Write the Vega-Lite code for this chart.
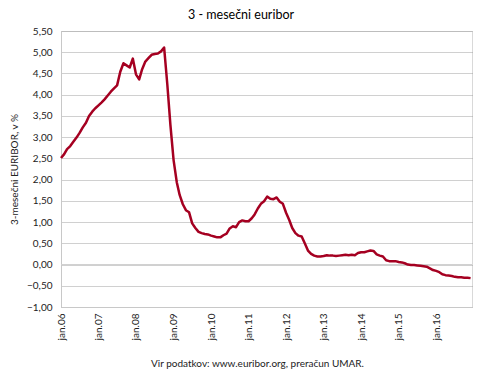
{
  "$schema": "https://vega.github.io/schema/vega-lite/v6.json",
  "width": 411,
  "height": 276,
  "autosize": {"type": "none"},
  "padding": {"left": 61, "top": 31, "right": 18, "bottom": 71},
  "background": "white",
  "title": {
    "text": "3 - mesečni euribor",
    "anchor": "middle",
    "frame": "bounds",
    "font": "Lato",
    "fontSize": 12.5,
    "fontWeight": "normal",
    "color": "#000000",
    "offset": 5
  },
  "config": {
    "view": {"stroke": "#d9d9d9", "strokeWidth": 1},
    "font": "Lato"
  },
  "data": {
    "values": [
      {"date": "2006-01-01", "v": 2.51}, {"date": "2006-02-01", "v": 2.60}, {"date": "2006-03-01", "v": 2.72}, {"date": "2006-04-01", "v": 2.79},
      {"date": "2006-05-01", "v": 2.89}, {"date": "2006-06-01", "v": 2.99}, {"date": "2006-07-01", "v": 3.10}, {"date": "2006-08-01", "v": 3.23},
      {"date": "2006-09-01", "v": 3.34}, {"date": "2006-10-01", "v": 3.50}, {"date": "2006-11-01", "v": 3.60}, {"date": "2006-12-01", "v": 3.68},
      {"date": "2007-01-01", "v": 3.75}, {"date": "2007-02-01", "v": 3.82}, {"date": "2007-03-01", "v": 3.89}, {"date": "2007-04-01", "v": 3.98},
      {"date": "2007-05-01", "v": 4.07}, {"date": "2007-06-01", "v": 4.15}, {"date": "2007-07-01", "v": 4.22}, {"date": "2007-08-01", "v": 4.54},
      {"date": "2007-09-01", "v": 4.74}, {"date": "2007-10-01", "v": 4.69}, {"date": "2007-11-01", "v": 4.64}, {"date": "2007-12-01", "v": 4.85},
      {"date": "2008-01-01", "v": 4.48}, {"date": "2008-02-01", "v": 4.36}, {"date": "2008-03-01", "v": 4.60}, {"date": "2008-04-01", "v": 4.78},
      {"date": "2008-05-01", "v": 4.86}, {"date": "2008-06-01", "v": 4.94}, {"date": "2008-07-01", "v": 4.96}, {"date": "2008-08-01", "v": 4.97},
      {"date": "2008-09-01", "v": 5.02}, {"date": "2008-10-01", "v": 5.11}, {"date": "2008-11-01", "v": 4.24}, {"date": "2008-12-01", "v": 3.29},
      {"date": "2009-01-01", "v": 2.46}, {"date": "2009-02-01", "v": 1.94}, {"date": "2009-03-01", "v": 1.64}, {"date": "2009-04-01", "v": 1.42},
      {"date": "2009-05-01", "v": 1.28}, {"date": "2009-06-01", "v": 1.23}, {"date": "2009-07-01", "v": 0.97}, {"date": "2009-08-01", "v": 0.86},
      {"date": "2009-09-01", "v": 0.77}, {"date": "2009-10-01", "v": 0.74}, {"date": "2009-11-01", "v": 0.72}, {"date": "2009-12-01", "v": 0.71},
      {"date": "2010-01-01", "v": 0.68}, {"date": "2010-02-01", "v": 0.66}, {"date": "2010-03-01", "v": 0.64}, {"date": "2010-04-01", "v": 0.64},
      {"date": "2010-05-01", "v": 0.69}, {"date": "2010-06-01", "v": 0.73}, {"date": "2010-07-01", "v": 0.85}, {"date": "2010-08-01", "v": 0.90},
      {"date": "2010-09-01", "v": 0.88}, {"date": "2010-10-01", "v": 1.00}, {"date": "2010-11-01", "v": 1.04}, {"date": "2010-12-01", "v": 1.02},
      {"date": "2011-01-01", "v": 1.02}, {"date": "2011-02-01", "v": 1.09}, {"date": "2011-03-01", "v": 1.18}, {"date": "2011-04-01", "v": 1.32},
      {"date": "2011-05-01", "v": 1.43}, {"date": "2011-06-01", "v": 1.49}, {"date": "2011-07-01", "v": 1.60}, {"date": "2011-08-01", "v": 1.55},
      {"date": "2011-09-01", "v": 1.54}, {"date": "2011-10-01", "v": 1.58}, {"date": "2011-11-01", "v": 1.48}, {"date": "2011-12-01", "v": 1.43},
      {"date": "2012-01-01", "v": 1.22}, {"date": "2012-02-01", "v": 1.05}, {"date": "2012-03-01", "v": 0.86}, {"date": "2012-04-01", "v": 0.74},
      {"date": "2012-05-01", "v": 0.68}, {"date": "2012-06-01", "v": 0.66}, {"date": "2012-07-01", "v": 0.50}, {"date": "2012-08-01", "v": 0.33},
      {"date": "2012-09-01", "v": 0.25}, {"date": "2012-10-01", "v": 0.21}, {"date": "2012-11-01", "v": 0.19}, {"date": "2012-12-01", "v": 0.19},
      {"date": "2013-01-01", "v": 0.20}, {"date": "2013-02-01", "v": 0.22}, {"date": "2013-03-01", "v": 0.21}, {"date": "2013-04-01", "v": 0.21},
      {"date": "2013-05-01", "v": 0.20}, {"date": "2013-06-01", "v": 0.21}, {"date": "2013-07-01", "v": 0.22}, {"date": "2013-08-01", "v": 0.23},
      {"date": "2013-09-01", "v": 0.22}, {"date": "2013-10-01", "v": 0.23}, {"date": "2013-11-01", "v": 0.22}, {"date": "2013-12-01", "v": 0.27},
      {"date": "2014-01-01", "v": 0.29}, {"date": "2014-02-01", "v": 0.29}, {"date": "2014-03-01", "v": 0.31}, {"date": "2014-04-01", "v": 0.33},
      {"date": "2014-05-01", "v": 0.32}, {"date": "2014-06-01", "v": 0.24}, {"date": "2014-07-01", "v": 0.21}, {"date": "2014-08-01", "v": 0.19},
      {"date": "2014-09-01", "v": 0.10}, {"date": "2014-10-01", "v": 0.08}, {"date": "2014-11-01", "v": 0.08}, {"date": "2014-12-01", "v": 0.08},
      {"date": "2015-01-01", "v": 0.06}, {"date": "2015-02-01", "v": 0.05}, {"date": "2015-03-01", "v": 0.03}, {"date": "2015-04-01", "v": 0.00},
      {"date": "2015-05-01", "v": -0.01}, {"date": "2015-06-01", "v": -0.01}, {"date": "2015-07-01", "v": -0.02}, {"date": "2015-08-01", "v": -0.03},
      {"date": "2015-09-01", "v": -0.04}, {"date": "2015-10-01", "v": -0.05}, {"date": "2015-11-01", "v": -0.09}, {"date": "2015-12-01", "v": -0.13},
      {"date": "2016-01-01", "v": -0.15}, {"date": "2016-02-01", "v": -0.18}, {"date": "2016-03-01", "v": -0.23}, {"date": "2016-04-01", "v": -0.25},
      {"date": "2016-05-01", "v": -0.26}, {"date": "2016-06-01", "v": -0.27}, {"date": "2016-07-01", "v": -0.29}, {"date": "2016-08-01", "v": -0.30},
      {"date": "2016-09-01", "v": -0.30}, {"date": "2016-10-01", "v": -0.31}, {"date": "2016-11-01", "v": -0.31}, {"date": "2016-12-01", "v": -0.32}
    ]
  },
  "encoding": {
    "x": {
      "field": "date",
      "type": "temporal",
      "scale": {"type": "utc", "domain": [{"year": 2006, "month": 1, "date": 1, "utc": true}, {"year": 2016, "month": 12, "date": 15, "utc": true}]},
      "axis": {
        "title": "Vir podatkov: www.euribor.org, preračun UMAR.",
        "titleFont": "Lato",
        "titleFontSize": 10,
        "titleFontWeight": "normal",
        "titleColor": "#222222",
        "titleX": 196,
        "titleY": 56,
        "titleAnchor": "middle",
        "titleBaseline": "middle",
        "tickCount": {"interval": "year", "step": 1},
        "labelExpr": "'jan.' + utcFormat(datum.value, '%y')",
        "labelAngle": 270,
        "labelAlign": "right",
        "labelBaseline": "middle",
        "labelPadding": 6,
        "labelFont": "Lato",
        "labelFontSize": 10,
        "labelColor": "#222222",
        "labelOverlap": false,
        "labelFlush": false,
        "ticks": false,
        "grid": false,
        "domainColor": "#c8c8c8"
      }
    },
    "y": {
      "field": "v",
      "type": "quantitative",
      "scale": {"domain": [-1, 5.5], "nice": false, "zero": false},
      "axis": {
        "title": "3-mesečni EURIBOR, v %",
        "titleFont": "Lato",
        "titleFontSize": 10,
        "titleFontWeight": "normal",
        "titleColor": "#222222",
        "titlePadding": 7,
        "values": [-1, -0.5, 0, 0.5, 1, 1.5, 2, 2.5, 3, 3.5, 4, 4.5, 5, 5.5],
        "labelExpr": "replace(format(datum.value, '.2f'), '.', ',')",
        "labelOverlap": false,
        "labelFont": "Lato",
        "labelFontSize": 10,
        "labelColor": "#222222",
        "labelPadding": 9,
        "ticks": false,
        "grid": true,
        "gridColor": "#a0a0a0",
        "gridDash": [1, 1],
        "gridWidth": 1,
        "domainColor": "#c8c8c8"
      }
    }
  },
  "layer": [
    {
      "data": {"values": [{"z": 0}]},
      "mark": {"type": "rule", "color": "#d0d0d0", "strokeWidth": 1},
      "encoding": {"x": null, "y": {"field": "z", "type": "quantitative"}}
    },
    {
      "mark": {"type": "line", "color": "#a50021", "strokeWidth": 2.5, "strokeJoin": "round"}
    }
  ]
}
